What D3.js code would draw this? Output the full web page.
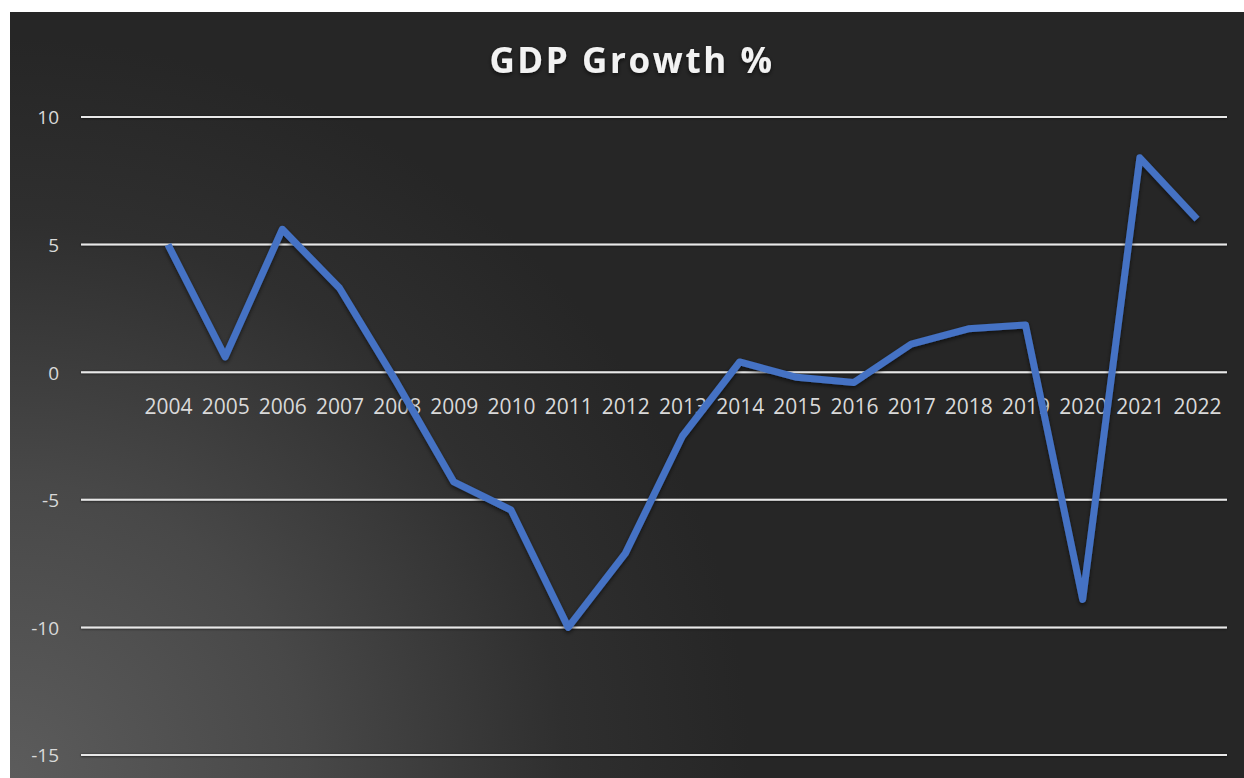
<!DOCTYPE html>
<html>
<head>
<meta charset="utf-8">
<script src="https://cdn.jsdelivr.net/npm/d3@7"></script>
<style>
  html, body { margin: 0; padding: 0; background: #ffffff; }
  svg { display: block; }
</style>
</head>
<body>
<svg id="chart" width="1244" height="778"></svg>
<script>
// Annual GDP growth, percent
const years = ["2004","2005","2006","2007","2008","2009","2010","2011","2012","2013",
               "2014","2015","2016","2017","2018","2019","2020","2021","2022"];
const growth = [5.0, 0.6, 5.6, 3.3, -0.4, -4.3, -5.4, -10.0, -7.1, -2.5,
                0.4, -0.2, -0.4, 1.1, 1.7, 1.85, -8.9, 8.4, 6.0];
const yTicks = [10, 5, 0, -5, -10, -15];
const title = "GDP Growth %";

const W = 1244, H = 778;
const svg = d3.select("#chart");
const defs = svg.append("defs");

// Dark panel with a soft light spot in the lower left
const grad = defs.append("radialGradient")
  .attr("id", "bg").attr("gradientUnits", "userSpaceOnUse")
  .attr("cx", 10).attr("cy", 778).attr("r", 740);
grad.append("stop").attr("offset", 0).attr("stop-color", "#5c5c5c");
grad.append("stop").attr("offset", 0.4).attr("stop-color", "#484848");
grad.append("stop").attr("offset", 0.75).attr("stop-color", "#2f2f2f");
grad.append("stop").attr("offset", 1).attr("stop-color", "#262626");

const shadow = defs.append("filter").attr("id", "shadow")
  .attr("filterUnits", "userSpaceOnUse")
  .attr("x", 0).attr("y", 0).attr("width", W).attr("height", H);
shadow.append("feDropShadow").attr("dx", 0).attr("dy", 2).attr("stdDeviation", 2)
  .attr("flood-color", "#000").attr("flood-opacity", 0.6);

const gridShadow = defs.append("filter").attr("id", "gshadow")
  .attr("filterUnits", "userSpaceOnUse")
  .attr("x", 0).attr("y", 0).attr("width", W).attr("height", H);
gridShadow.append("feDropShadow").attr("dx", 0).attr("dy", 0.5).attr("stdDeviation", 0.8)
  .attr("flood-color", "#000").attr("flood-opacity", 0.7);

svg.append("rect").attr("x", 10).attr("y", 12).attr("width", W - 10).attr("height", H - 12)
  .attr("fill", "url(#bg)");

// Scales
const y = d3.scaleLinear().domain([-15, 10]).range([755, 117]);
const x = d3.scalePoint().domain(years).range([168, 1197]);
const gridLeft = 81, gridRight = 1227;

// Horizontal gridlines
svg.append("g").selectAll("line").data(yTicks).join("line")
  .attr("x1", gridLeft).attr("x2", gridRight)
  .attr("y1", d => y(d)).attr("y2", d => y(d))
  .attr("stroke", "#e8e8e8").attr("stroke-width", 2)
  .attr("filter", "url(#gshadow)");

// Y axis labels
const yAxis = d3.axisLeft(y).tickValues(yTicks).tickSize(0).tickPadding(0)
  .tickFormat(d => String(d));
const gy = svg.append("g").attr("transform", "translate(59,0)").call(yAxis);
gy.select(".domain").remove();
gy.selectAll("text")
  .attr("dy", "0.36em")
  .attr("fill", "#d9d9d9").attr("font-family", "'Open Sans', sans-serif")
  .attr("font-size", 19);

// X axis labels along the zero line
const xAxis = d3.axisBottom(x).tickSize(0).tickPadding(0);
const gx = svg.append("g").attr("transform", `translate(0,${y(0) + 34})`).call(xAxis);
gx.select(".domain").remove();
gx.selectAll("text")
  .attr("y", 0).attr("dy", "0.36em")
  .attr("fill", "#d9d9d9").attr("font-family", "'Open Sans', sans-serif")
  .attr("font-size", 21);

// Growth line
const line = d3.line().x((d, i) => x(years[i])).y(d => y(d));
svg.append("path").datum(growth)
  .attr("d", line)
  .attr("fill", "none").attr("stroke", "#4472c4").attr("stroke-width", 7)
  .attr("stroke-linejoin", "round").attr("stroke-linecap", "butt")
  .attr("filter", "url(#shadow)");

// Title
svg.append("text").attr("x", 632).attr("y", 73)
  .attr("text-anchor", "middle")
  .attr("fill", "#f2f2f2").attr("font-family", "'Open Sans', sans-serif")
  .attr("font-weight", "bold").attr("font-size", 35).attr("letter-spacing", 2.6)
  .attr("filter", "url(#shadow)")
  .text(title);
</script>
</body>
</html>
